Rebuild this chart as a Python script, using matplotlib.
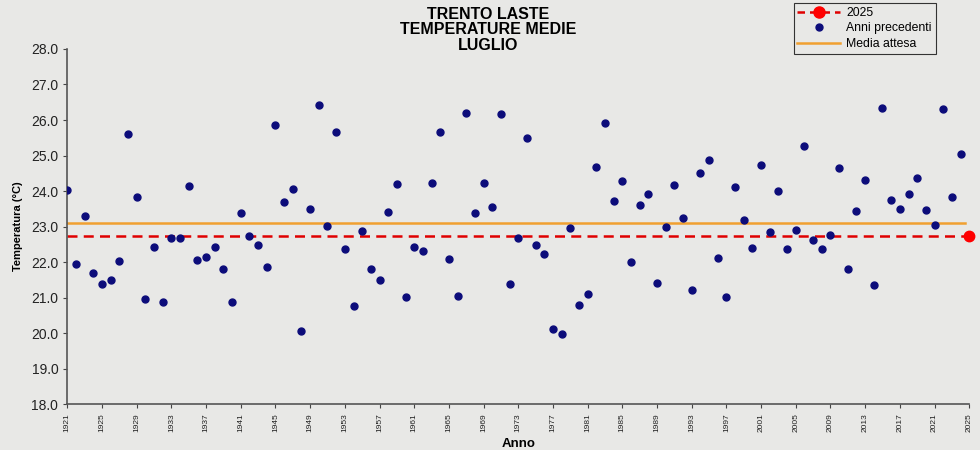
import numpy as np
import matplotlib.pyplot as plt

plt.rcParams['font.family'] = ['Liberation Sans', 'DejaVu Sans']

# anni precedenti (1921-2024)
anni = list(range(1921, 2025))
temp = [24.04, 21.96, 23.30, 21.70, 21.38, 21.49, 22.03, 25.60, 23.83, 20.96,
        22.44, 20.88, 22.69, 22.67, 24.14, 22.06, 22.14, 22.44, 21.82, 20.87,
        23.38, 22.74, 22.48, 21.86, 25.85, 23.68, 24.05, 20.07, 23.50, 26.42,
        23.02, 25.66, 22.36, 20.78, 22.87, 21.81, 21.49, 23.40, 24.19, 21.02,
        22.42, 22.31, 24.23, 25.66, 22.08, 21.04, 26.19, 23.38, 24.23, 23.54,
        26.18, 21.39, 22.67, 25.50, 22.48, 22.24, 20.12, 19.98, 22.95, 20.81,
        21.10, 24.67, 25.93, 23.71, 24.29, 22.01, 23.61, 23.91, 21.41, 23.00,
        24.18, 23.24, 21.22, 24.51, 24.87, 22.11, 21.02, 24.11, 23.18, 22.39,
        24.73, 22.84, 23.99, 22.36, 22.90, 25.28, 22.63, 22.38, 22.77, 24.65,
        21.82, 23.43, 24.32, 21.37, 26.34, 23.75, 23.49, 23.92, 24.38, 23.46,
        23.06, 26.32, 23.83, 25.05]
anno_2025 = 2025
temp_2025 = 22.74
media_attesa = 23.09

bg = '#e8e8e6'
fig = plt.figure(figsize=(9.8, 4.5), dpi=100, facecolor=bg)
ax = fig.add_axes([0.0687, 0.1013, 0.9203, 0.7900])
ax.set_facecolor(bg)

ax.plot([1921, anno_2025], [temp_2025, temp_2025], color='#e00000', lw=1.8,
        ls=(0, (4, 2.5)), zorder=2)
ax.plot(anno_2025, temp_2025, 'o', color='#ff0000', ms=7.5, zorder=4, clip_on=False)
ax.plot(anni, temp, 'o', color='#0c0c7a', ms=5, ls='none', zorder=3)
ax.plot([1921, 2024.5], [media_attesa, media_attesa], color='#f0a030', lw=1.8, zorder=2)

ax.set_xlim(1921, 2025)
ax.set_ylim(18, 28)
ax.set_yticks(np.arange(18, 28.5, 1))
ax.set_yticklabels([f'{v:.1f}' for v in np.arange(18, 28.5, 1)], fontsize=10, color='#222222')
ax.set_xticks(range(1921, 2026, 4))
ax.set_xticklabels([str(a) for a in range(1921, 2026, 4)], rotation=90, fontsize=6,
                   color='#222222')
ax.tick_params(axis='both', direction='out', length=3, color='#444444')
for s in ['top', 'right']:
    ax.spines[s].set_visible(False)
for s in ['left', 'bottom']:
    ax.spines[s].set_color('#555555')
    ax.spines[s].set_linewidth(1.2)

ax.set_xlabel('Anno', fontsize=9.5, fontweight='bold', labelpad=4)
ax.set_ylabel('Temperatura (°C)', fontsize=8, fontweight='bold', labelpad=6)

fig.text(0.498, 0.984, 'TRENTO LASTE\nTEMPERATURE MEDIE\nLUGLIO', ha='center', va='top',
         fontsize=11.5, fontweight='bold', linespacing=1.02)

h1, = ax.plot([], [], color='#e00000', ls=(0, (3, 2)), lw=1.8, marker='o',
              mfc='#ff0000', mec='#ff0000', ms=8)
h2, = ax.plot([], [], 'o', color='#0c0c7a', ms=5, ls='none')
h3, = ax.plot([], [], color='#f0a030', lw=1.8)
leg = fig.legend([h1, h2, h3], ['2025', 'Anni precedenti', 'Media attesa'],
                 loc='upper left', bbox_to_anchor=(0.81, 0.993), fontsize=8.8,
                 frameon=True, fancybox=False, edgecolor='#333333', facecolor=bg,
                 framealpha=1, handlelength=3.5, borderpad=0.3, labelspacing=0.3,
                 handletextpad=0.5, borderaxespad=0)
leg.get_frame().set_linewidth(0.8)

fig.savefig('out.png', dpi=100, facecolor=bg)
